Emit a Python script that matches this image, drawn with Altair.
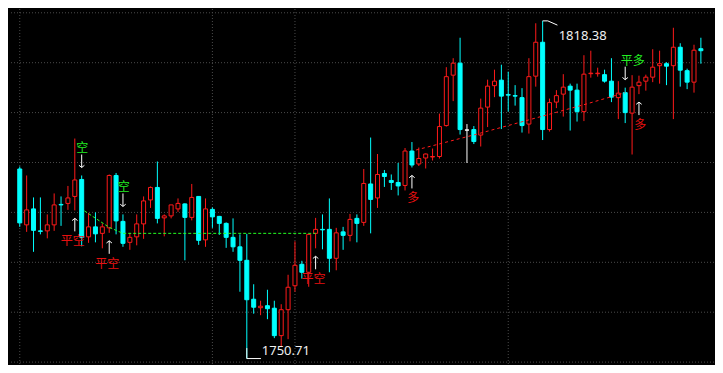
import altair as alt
import numpy as np
import pandas as pd

# ---- OHLC values (100 bars) ----
opens = [
    1788.7, 1777.5, 1780.7, 1776.3, 1776.3, 1777.5, 1781.6, 1781.8, 1783.2, 1786.6,
    1775.1, 1777.1, 1775.8, 1776.9, 1787.4, 1778.2, 1774.0, 1775.1, 1777.7, 1782.5,
    1785.0, 1778.9, 1779.3, 1780.7, 1781.7, 1779.0, 1783.2, 1774.5, 1780.6, 1779.2,
    1777.8, 1775.0, 1773.1, 1770.4, 1762.6, 1760.9, 1761.3, 1760.8, 1755.3, 1760.5,
    1765.3, 1769.6, 1768.0, 1775.8, 1776.6, 1776.6, 1770.8, 1776.1, 1775.4, 1778.8,
    1778.0, 1785.7, 1782.9, 1787.8, 1786.4, 1786.0, 1785.4, 1792.3, 1789.7, 1790.9,
    1791.1, 1791.2, 1797.4, 1807.5, 1809.9, 1796.5, 1796.6, 1795.5, 1801.1, 1805.4,
    1806.5, 1803.6, 1803.4, 1803.0, 1797.7, 1807.3, 1814.1, 1796.6, 1802.1, 1803.7,
    1805.3, 1804.5, 1800.2, 1807.8, 1807.8, 1807.6, 1806.3, 1803.0, 1804.0, 1799.9,
    1805.4, 1806.3, 1807.1, 1809.4, 1809.8, 1809.4, 1813.1, 1808.4, 1806.1, 1812.8,
]
highs = [
    1789.2, 1787.4, 1783.0, 1783.0, 1779.6, 1783.8, 1783.2, 1785.3, 1794.8, 1787.4,
    1779.9, 1780.0, 1777.8, 1787.6, 1787.9, 1779.6, 1775.9, 1779.6, 1783.2, 1785.2,
    1790.2, 1779.6, 1781.5, 1782.8, 1781.8, 1785.7, 1783.2, 1782.8, 1781.0, 1779.3,
    1778.0, 1778.8, 1775.6, 1775.7, 1765.6, 1762.3, 1764.5, 1762.3, 1761.6, 1767.5,
    1774.2, 1770.3, 1775.7, 1778.9, 1779.6, 1782.8, 1776.9, 1777.1, 1779.7, 1779.6,
    1788.7, 1795.0, 1791.7, 1788.5, 1787.6, 1789.9, 1792.9, 1794.1, 1793.0, 1791.8,
    1792.8, 1799.8, 1809.1, 1810.9, 1815.0, 1797.7, 1797.3, 1802.8, 1806.6, 1808.6,
    1809.6, 1808.2, 1805.5, 1804.9, 1810.9, 1817.9, 1818.38, 1802.8, 1804.5, 1807.7,
    1805.8, 1805.8, 1811.5, 1812.4, 1809.0, 1808.6, 1810.9, 1806.3, 1805.0, 1807.5,
    1807.4, 1807.6, 1812.7, 1812.4, 1810.1, 1817.0, 1813.9, 1808.8, 1813.6, 1815.0,
]
lows = [
    1777.1, 1776.1, 1772.1, 1775.6, 1774.8, 1776.3, 1777.3, 1780.5, 1780.4, 1773.2,
    1773.9, 1774.0, 1772.8, 1775.9, 1775.6, 1773.1, 1772.5, 1773.4, 1774.7, 1780.9,
    1777.8, 1775.2, 1778.8, 1780.1, 1770.4, 1778.4, 1773.5, 1773.1, 1776.9, 1775.5,
    1772.9, 1772.1, 1764.1, 1750.71, 1759.7, 1759.4, 1758.6, 1754.8, 1753.0, 1754.6,
    1764.1, 1766.7, 1765.1, 1772.8, 1772.6, 1768.0, 1768.4, 1772.5, 1774.2, 1774.0,
    1777.3, 1775.8, 1780.9, 1785.1, 1784.5, 1783.4, 1784.4, 1789.0, 1789.3, 1788.8,
    1790.4, 1790.8, 1797.2, 1802.3, 1795.6, 1789.9, 1793.7, 1793.2, 1797.1, 1803.1,
    1796.7, 1800.2, 1801.4, 1796.0, 1795.8, 1805.2, 1794.5, 1796.2, 1800.9, 1799.2,
    1796.4, 1798.2, 1798.3, 1807.0, 1807.2, 1806.0, 1802.1, 1798.7, 1797.9, 1791.6,
    1803.7, 1804.4, 1806.1, 1805.8, 1805.5, 1798.7, 1805.2, 1804.7, 1804.0, 1809.8,
]
closes = [
    1777.9, 1780.5, 1776.4, 1776.2, 1777.5, 1781.5, 1781.5, 1782.9, 1786.5, 1775.0,
    1777.1, 1775.7, 1777.1, 1787.4, 1778.3, 1773.8, 1775.0, 1777.7, 1782.3, 1785.0,
    1778.8, 1779.3, 1781.5, 1781.8, 1779.0, 1783.0, 1774.4, 1780.7, 1779.1, 1777.8,
    1775.0, 1773.1, 1770.4, 1762.5, 1761.0, 1761.2, 1760.7, 1755.3, 1760.5, 1765.0,
    1769.4, 1768.0, 1775.6, 1776.6, 1776.5, 1770.8, 1775.9, 1775.4, 1778.6, 1777.8,
    1785.8, 1782.6, 1787.6, 1787.2, 1786.0, 1785.3, 1792.3, 1789.5, 1790.8, 1791.7,
    1791.2, 1797.2, 1807.2, 1809.9, 1796.6, 1796.5, 1794.2, 1800.9, 1805.3, 1806.3,
    1803.3, 1803.5, 1803.3, 1797.4, 1807.2, 1814.1, 1796.6, 1802.0, 1803.4, 1805.1,
    1804.5, 1800.2, 1807.7, 1807.9, 1807.9, 1806.3, 1803.1, 1803.9, 1800.0, 1805.1,
    1806.1, 1807.1, 1809.1, 1809.8, 1809.3, 1813.1, 1808.5, 1806.1, 1812.5, 1812.4,
]
bar_idx = list(range(1, len(opens) + 1))

# ---- grid ----
grid_levels = [1750, 1760, 1770, 1780, 1790, 1800, 1810, 1820]
session_idx = [1, 29, 41, 72]

# ---- stop lines ----
green_stop_idx = [10.4, 14.0, 16.0, 44.0]
green_stop_val = [1780.3, 1777.0, 1775.8, 1775.8]
red_stop_idx = [58.6, 67.2, 74.9, 83.3, 89.0]
red_stop_val = [1792.5, 1795.6, 1798.5, 1801.7, 1804.0]

# ---- trade signals ----
sig_idx = [10, 16, 9, 14, 44, 58, 89, 91]
sig_text = ["空", "空", "平空", "平空", "平空", "多", "平多", "多"]

# ---- extremes ----
high_idx, high_val = 77, 1818.38
low_idx, low_val = 34, 1750.71

W, H = 707, 357
xs = alt.Scale(domain=[0.162, 101.18], nice=False, zero=False)
ys = alt.Scale(domain=[1749.62, 1820.76], nice=False, zero=False)


def X(f="i"):
    return alt.X(f"{f}:Q", scale=xs, axis=None)


def Y(f):
    return alt.Y(f"{f}:Q", scale=ys, axis=None)


df = pd.DataFrame({"i": bar_idx, "o": opens, "h": highs, "l": lows, "c": closes})
df["dir"] = np.where(df.c > df.o, "up", np.where(df.c < df.o, "down", "flat"))
dirs = ["up", "down", "flat"]
stroke_sc = alt.Scale(domain=dirs, range=["#ff1a1a", "#00ffff", "#ffffff"])
fill_sc = alt.Scale(domain=dirs, range=["#000000", "#00ffff", "#ffffff"])

grid_col = "#4a4a4a"
hgrid = alt.Chart(pd.DataFrame({"p": grid_levels})).mark_rule(
    color=grid_col, strokeDash=[1, 2], strokeWidth=1).encode(y=Y("p"))
vgrid = alt.Chart(pd.DataFrame({"i": session_idx})).mark_rule(
    color=grid_col, strokeDash=[1, 2], strokeWidth=1).encode(x=X())

wick = alt.Chart(df).mark_rule(strokeWidth=1).encode(
    x=X(), y=Y("l"), y2="h:Q",
    stroke=alt.Stroke("dir:N", scale=stroke_sc, legend=None))
body = alt.Chart(df).mark_bar(size=4, strokeWidth=1).encode(
    x=X(), y=Y("o"), y2="c:Q",
    fill=alt.Fill("dir:N", scale=fill_sc, legend=None),
    stroke=alt.Stroke("dir:N", scale=stroke_sc, legend=None))

green_line = alt.Chart(pd.DataFrame({"i": green_stop_idx, "p": green_stop_val})).mark_line(
    color="#22ff22", strokeDash=[3, 2], strokeWidth=1).encode(x=X(), y=Y("p"))
red_line = alt.Chart(pd.DataFrame({"i": red_stop_idx, "p": red_stop_val})).mark_line(
    color="#ff1a1a", strokeDash=[3, 3], strokeWidth=1).encode(x=X(), y=Y("p"))

# signals: arrows (shaft + chevron head) and labels
GAP, LEN = 1.6, 2.6  # price units between candle extreme and arrow head, arrow length
sig = pd.DataFrame({"i": sig_idx, "t": sig_text}).merge(df[["i", "h", "l"]], on="i")
shift = {"空": 0.1, "平空": -0.3, "多": 0.2, "平多": 1.1}
sig["tx"] = sig["i"] + sig["t"].map(shift)
is_above = sig["t"].isin(["空", "平多"])
above = sig[is_above].copy()
below = sig[~is_above].copy()
above["head"] = above["h"] + GAP
above["tail"] = above["h"] + GAP + LEN
below["head"] = below["l"] - GAP
below["tail"] = below["l"] - GAP - LEN

white = "#ffffff"
shaft_dn = alt.Chart(above).mark_rule(color=white, strokeWidth=1).encode(
    x=X(), y=Y("head"), y2="tail:Q")
head_dn = alt.Chart(above).mark_point(
    shape="M-1,-0.8L0,0L1,-0.8", filled=False, size=30, strokeWidth=1, color=white, opacity=1
).encode(x=X(), y=Y("head"))
shaft_up = alt.Chart(below).mark_rule(color=white, strokeWidth=1).encode(
    x=X(), y=Y("head"), y2="tail:Q")
head_up = alt.Chart(below).mark_point(
    shape="M-1,0.8L0,0L1,0.8", filled=False, size=30, strokeWidth=1, color=white, opacity=1
).encode(x=X(), y=Y("head"))

cjk = "Noto Sans CJK SC"
txt_above = alt.Chart(above).mark_text(
    color="#22ee22", fontSize=12, dy=-27, baseline="middle", font=cjk
).encode(x=X("tx"), y=Y("h"), text="t:N")
txt_below = alt.Chart(below).mark_text(
    color="#e81010", fontSize=12, dy=31, baseline="middle", font=cjk
).encode(x=X("tx"), y=Y("l"), text="t:N")

# high marker
hi_flag = alt.Chart(pd.DataFrame({
    "i": [high_idx, high_idx + 0.75, high_idx + 2.15],
    "p": [high_val, high_val, high_val - 0.85]})).mark_line(
    color=white, strokeWidth=1).encode(x=X(), y=Y("p"))
hi_txt = alt.Chart(pd.DataFrame({"i": [high_idx], "p": [high_val], "t": [f"{high_val:.2f}"]})).mark_text(
    align="left", baseline="middle", dx=16, dy=15, color="#f0f0f0", fontSize=13, font="Noto Sans"
).encode(x=X(), y=Y("p"), text="t:N")

# low marker
lo_v = alt.Chart(pd.DataFrame({"i": [low_idx], "p": [low_val + 2.1], "p2": [low_val]})).mark_rule(
    color=white, strokeWidth=1).encode(x=X(), y=Y("p"), y2="p2:Q")
lo_h = alt.Chart(pd.DataFrame({"i": [low_idx], "i2": [low_idx + 2.05], "p": [low_val]})).mark_rule(
    color=white, strokeWidth=1).encode(x=X(), x2="i2:Q", y=Y("p"))
lo_txt = alt.Chart(pd.DataFrame({"i": [low_idx], "p": [low_val], "t": [f"{low_val:.2f}"]})).mark_text(
    align="left", baseline="middle", dx=15, dy=-8, color="#f0f0f0", fontSize=13, font="Noto Sans"
).encode(x=X(), y=Y("p"), text="t:N")

chart = alt.layer(
    hgrid, vgrid, wick, body, green_line, red_line,
    shaft_dn, head_dn, shaft_up, head_up, txt_above, txt_below,
    hi_flag, hi_txt, lo_v, lo_h, lo_txt,
).properties(
    width=W, height=H,
    autosize=alt.AutoSizeParams(type="fit", contains="padding"),
    padding=0, background="#000000",
).configure_view(stroke=None)

chart.save("out.html", embed_options={"renderer": "svg", "actions": False})
